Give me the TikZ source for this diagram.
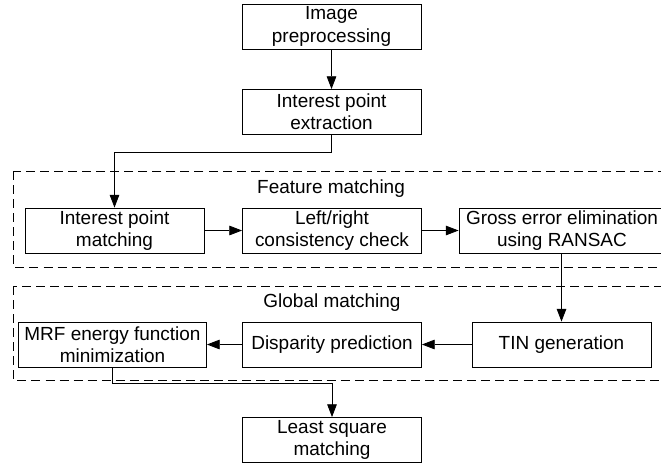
\documentclass[tikz,border=0pt]{standalone}
\usepackage{fontspec}
\setmainfont{Liberation Sans}
\usetikzlibrary{arrows.meta}
\begin{document}
\begin{tikzpicture}[
  font=\fontsize{13.5}{15.8}\selectfont,
  line width=0.6pt,
  >={Triangle[length=3.2mm,width=2.4mm]},
  stage/.style={draw, rectangle, align=center, inner sep=0pt, minimum width=4.475cm, minimum height=1.125cm},
  group/.style={draw, dash pattern=on 6.4pt off 3.6pt}]
\useasboundingbox (0,0) rectangle (16.525,-11.625);
\clip (0,0) rectangle (16.525,-11.625);
% dashed frames
\draw[group] (0.325,-4.275) rectangle (17,-6.675);
\draw[group] (0.325,-7.15) rectangle (17,-9.5);
\node (fm) at (8.275,-4.725) {Feature matching};
\node (gm) at (8.3,-7.575) {Global matching};
% stages
\node[stage] (img) at (8.2875,-0.6625) {Image\\preprocessing};
\node[stage] (ext) at (8.2875,-2.8) {Interest point\\extraction};
\node[stage] (ipm) at (2.8625,-5.7625) {Interest point\\matching};
\node[stage] (lrc) at (8.3,-5.7625) {Left/right\\consistency check};
\node[stage, minimum width=5.15cm] (gross) at (14.05,-5.7625) {Gross error elimination\\using RANSAC};
\node[stage] (tin) at (14.0375,-8.6125) {TIN generation};
\node[stage] (disp) at (8.3,-8.6125) {Disparity prediction};
\node[stage, minimum width=4.7cm] (mrf) at (2.8125,-8.6125) {MRF energy function\\minimization};
\node[stage] (lsm) at (8.3,-11.0) {Least square\\matching};
% connectors
\draw[->] (img) -- (ext);
\draw[->] (ext.south) -- ++(0,-0.425) -| (ipm.north);
\draw[->] (ipm) -- (lrc);
\draw[->] (lrc) -- (gross);
\draw[->] (gross.south -| tin.north) -- (tin.north);
\draw[->] (tin) -- (disp);
\draw[->] (disp) -- (mrf);
\draw[->] (mrf.south) -- ++(0,-0.4) -| (lsm.north);
\end{tikzpicture}
\end{document}
